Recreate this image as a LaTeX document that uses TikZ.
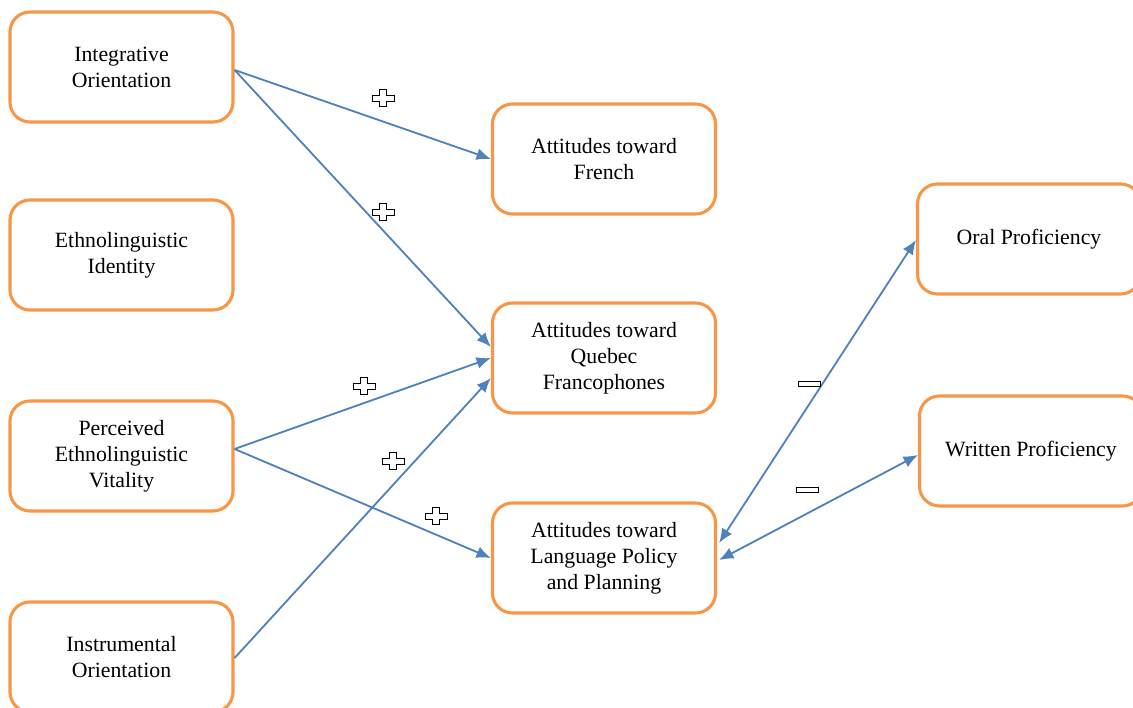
\documentclass[tikz,border=0pt]{standalone}
\usepackage{fontspec}
\setmainfont{Liberation Serif}
\usetikzlibrary{arrows.meta,calc}

\definecolor{boxorange}{RGB}{247,150,70}
\definecolor{linkblue}{RGB}{79,129,189}

\tikzset{
  factor/.style={draw=boxorange, line width=2.2pt, rounded corners=0.5cm,
    minimum width=5.575cm, minimum height=2.75cm, align=center,
    font=\fontsize{15.5}{18.5}\selectfont, fill=white},
  link/.style={draw=linkblue, line width=1.3pt,
    -{Latex[length=0.36cm,width=0.3cm]}},
  twoway/.style={link, {Latex[length=0.36cm,width=0.3cm]}-{Latex[length=0.36cm,width=0.3cm]}},
  sign/.style={draw=black, line width=0.7pt, fill=white}
}

% outlined plus and minus marks
\newcommand{\plusmark}[1]{%
  \draw[sign] ($(#1)+(-3.5,-8.5)$) -- ++(7,0) -- ++(0,5.5) -- ++(7.5,0) -- ++(0,6)
    -- ++(-7.5,0) -- ++(0,5.5) -- ++(-7,0) -- ++(0,-5.5) -- ++(-7.5,0) -- ++(0,-6)
    -- ++(7.5,0) -- cycle;}
\newcommand{\minusmark}[1]{%
  \draw[sign] ($(#1)+(-11,-2.5)$) rectangle ++(22,5);}

\begin{document}
\begin{tikzpicture}[x=0.025cm, y=-0.025cm]
  \useasboundingbox (0,0) rectangle (1133,708);
  \clip (0,0) rectangle (1133,708);

  \node [factor] (integ) at (121.5,67) {Integrative\\Orientation};
  \node [factor] (ethid) at (121.5,255) {Ethnolinguistic\\Identity};
  \node [factor] (vital) at (121.5,456) {Perceived\\Ethnolinguistic\\Vitality};
  \node [factor] (instr) at (121.5,657) {Instrumental\\Orientation};

  \node [factor] (french) at (604,159) {Attitudes toward\\French};
  \node [factor] (quebec) at (604,358) {Attitudes toward\\Quebec\\Francophones};
  \node [factor] (policy) at (604,558) {Attitudes toward\\Language Policy\\and Planning};

  \node [factor] (oral) at (1029,239) {Oral Proficiency};
  \node [factor] (written) at (1031,451) {Written Proficiency};

  \coordinate (integ-out) at ($(integ.east)+(0,3)$);
  \coordinate (vital-out) at ($(vital.east)+(0,-7)$);
  \coordinate (instr-out) at ($(instr.east)+(0,1)$);

  \draw [link] (integ-out) -- (french.west);
  \draw [link] (integ-out) -- ($(quebec.west)+(0,-11)$);
  \draw [link] (vital-out) -- (quebec.west);
  \draw [link] (vital-out) -- (policy.west);
  \draw [link] (instr-out) -- ($(quebec.west)+(0,20)$);
  \draw [twoway] ($(policy.east)+(2,-15)$) -- ($(oral.west)+(0,1)$);
  \draw [twoway] ($(policy.east)+(2,2)$) -- ($(written.west)+(0,4)$);

  \plusmark{383,98}
  \plusmark{383,212}
  \plusmark{364,386}
  \plusmark{393,461}
  \plusmark{436,516}
  \minusmark{809,384}
  \minusmark{807,490}
\end{tikzpicture}
\end{document}
